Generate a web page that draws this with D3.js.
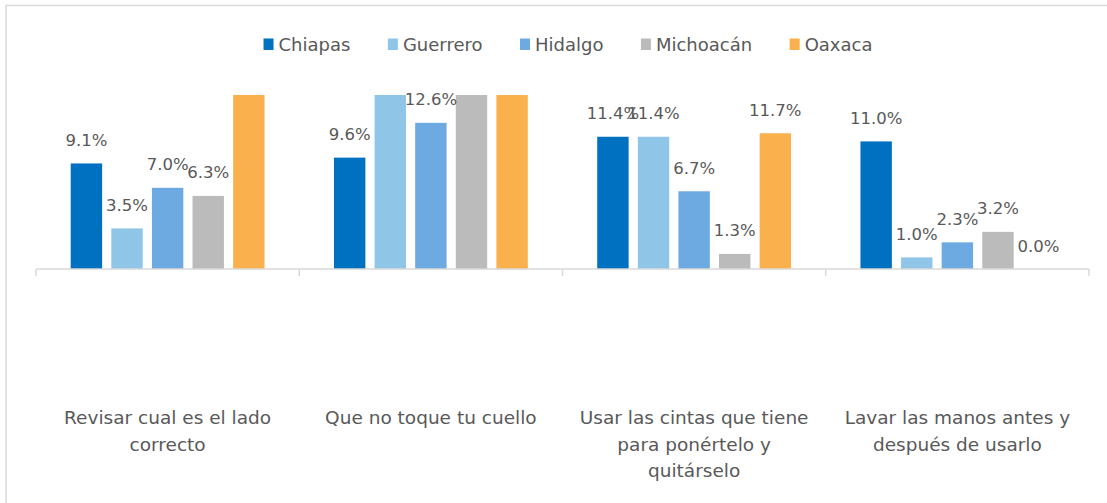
<!DOCTYPE html>
<html>
<head>
<meta charset="utf-8">
<script src="https://cdn.jsdelivr.net/npm/d3@7"></script>
<style>
  html, body { margin: 0; padding: 0; background: #fff; }
  svg { display: block; font-family: "DejaVu Sans", sans-serif; }
</style>
</head>
<body>
<svg id="chart" width="1107" height="503"></svg>
<script>
// ---- data ----
const categories = [
  "Revisar cual es el lado\ncorrecto",
  "Que no toque tu cuello",
  "Usar las cintas que tiene\npara ponértelo y\nquitárselo",
  "Lavar las manos antes y\ndespués de usarlo"
];
const seriesNames = ["Chiapas", "Guerrero", "Hidalgo", "Michoacán", "Oaxaca"];
const chiapas   = [9.1, 9.6, 11.4, 11.0];
const guerrero  = [3.5, 16.0, 11.4, 1.0];
const hidalgo   = [7.0, 12.6, 6.7, 2.3];
const michoacan = [6.3, 17.0, 1.3, 3.2];
const oaxaca    = [16.5, 18.0, 11.7, 0.0];
const colors = ["#0070C0", "#8FC6E8", "#6DAAE1", "#BBBBBB", "#F9B04D"];
const yMax = 15;

const seriesValues = [chiapas, guerrero, hidalgo, michoacan, oaxaca];

// ---- layout ----
const svg = d3.select("#chart");
const plot = { left: 36, right: 1089, top: 95, bottom: 269 };
const textColor = "#595959";
const gridColor = "#D9D9D9";

// chart area border
svg.append("rect")
  .attr("x", 6).attr("y", 5.5).attr("width", 1300).attr("height", 700)
  .attr("fill", "none").attr("stroke", gridColor).attr("stroke-width", 1.5);

const x0 = d3.scaleBand().domain(d3.range(categories.length))
  .range([plot.left, plot.right]).paddingInner(0).paddingOuter(0);
const x1 = d3.scaleBand().domain(seriesNames)
  .range([0, x0.bandwidth()]).paddingInner(0.2266).paddingOuter(0.855);
const y = d3.scaleLinear().domain([0, yMax]).range([plot.bottom, plot.top]);

svg.append("defs").append("clipPath").attr("id", "clip")
  .append("rect").attr("x", plot.left).attr("y", plot.top)
  .attr("width", plot.right - plot.left).attr("height", plot.bottom - plot.top);

const data = [];
categories.forEach((c, ci) => {
  seriesNames.forEach((s, si) => {
    data.push({ ci, s, si, v: seriesValues[si][ci] });
  });
});

// bars
svg.append("g").attr("clip-path", "url(#clip)")
  .selectAll("rect").data(data).join("rect")
  .attr("x", d => x0(d.ci) + x1(d.s))
  .attr("y", d => y(d.v))
  .attr("width", x1.bandwidth())
  .attr("height", d => y(0) - y(d.v))
  .attr("fill", d => colors[d.si]);

// x axis line and ticks
const axisG = svg.append("g").attr("transform", `translate(0,${plot.bottom})`);
const xAxis = d3.axisBottom(x0).tickSize(0).tickFormat("");
axisG.call(xAxis);
axisG.select(".domain").attr("stroke", gridColor).attr("stroke-width", 1.5)
  .attr("d", `M${plot.left},0H${plot.right}`);
const boundaries = d3.range(categories.length + 1).map(i =>
  i < categories.length ? x0(i) : x0(categories.length - 1) + x0.bandwidth());
axisG.selectAll(".sep").data(boundaries).join("line")
  .attr("class", "sep")
  .attr("x1", d => d).attr("x2", d => d)
  .attr("y1", 0).attr("y2", 7)
  .attr("stroke", gridColor).attr("stroke-width", 1.5);

// data labels (hidden when outside the plot area)
svg.append("g").selectAll("text").data(data.filter(d => d.v <= yMax)).join("text")
  .attr("x", d => x0(d.ci) + x1(d.s) + x1.bandwidth() / 2)
  .attr("y", d => y(d.v) - 17.5)
  .attr("text-anchor", "middle")
  .attr("font-size", "16.5px")
  .attr("fill", textColor)
  .text(d => d.v.toFixed(1) + "%");

// category labels
const catG = svg.append("g");
categories.forEach((c, ci) => {
  const lines = c.split("\n");
  const t = catG.append("text")
    .attr("text-anchor", "middle")
    .attr("font-size", "18.5px")
    .attr("fill", textColor);
  lines.forEach((ln, li) => {
    t.append("tspan")
      .attr("x", x0(ci) + x0.bandwidth() / 2)
      .attr("y", 424 + li * 26.5)
      .text(ln);
  });
});

// legend
const legend = svg.append("g");
let cx = 0;
const items = [];
seriesNames.forEach((s, si) => {
  const g = legend.append("g");
  g.append("rect").attr("x", 0).attr("y", -12).attr("width", 10).attr("height", 11.5)
    .attr("fill", colors[si]);
  const t = g.append("text").attr("x", 15).attr("y", 0)
    .attr("font-size", "18px").attr("fill", textColor).text(s);
  const w = 15 + t.node().getComputedTextLength();
  items.push({ g, offset: cx });
  cx += w + 37.5;
});
const totalW = cx - 37.5;
const startX = 568 - totalW / 2;
items.forEach(it => it.g.attr("transform", `translate(${startX + it.offset},50.5)`));
</script>
</body>
</html>
